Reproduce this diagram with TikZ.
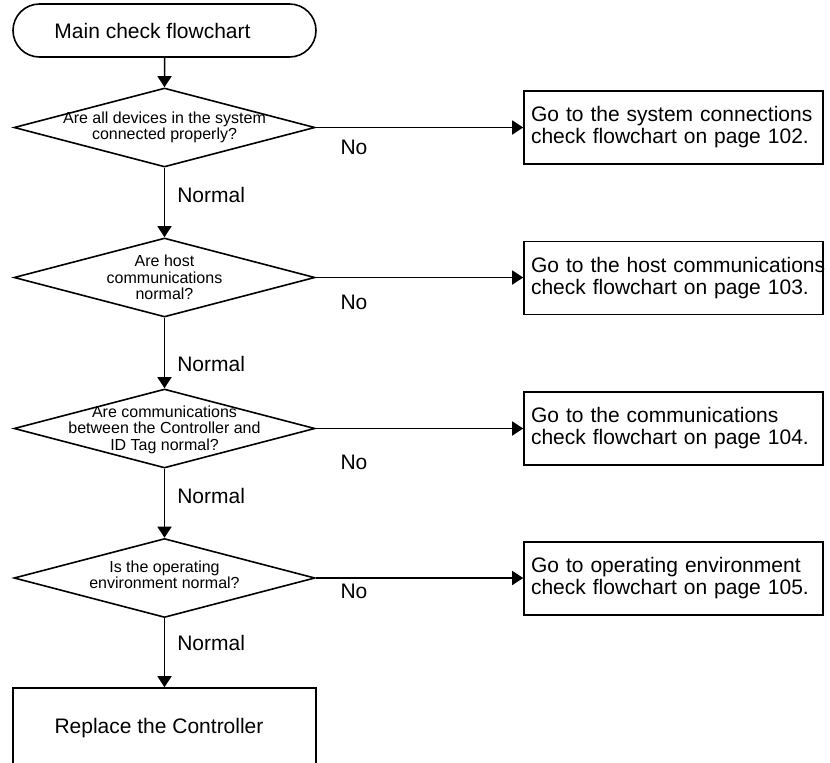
\documentclass[tikz,border=0pt]{standalone}
\usepackage{fontspec}
\setmainfont{Liberation Sans}
\usetikzlibrary{arrows.meta,shapes.geometric,shapes.misc}
\begin{document}
\begin{tikzpicture}[x=1pt,y=-1pt,
  every node/.style={font=\fontsize{21pt}{22pt}\selectfont},
  term/.style={rounded rectangle, draw, line width=1.6pt, minimum width=303pt, minimum height=53pt, inner sep=0pt},
  dia/.style={diamond, draw, line width=1.6pt, minimum width=301pt, minimum height=79pt, inner sep=0pt},
  dtext/.style={font=\fontsize{16pt}{16.5pt}\selectfont, align=center, inner sep=0pt},
  gobox/.style={rectangle, draw, line width=1.6pt, minimum width=299pt, minimum height=73pt, text width=285pt, inner xsep=7pt, inner ysep=0pt, align=left},
  endbox/.style={rectangle, draw, line width=1.6pt, minimum width=303pt, minimum height=80pt},
  arr/.style={line width=1.5pt, -{Triangle[length=11pt,width=14pt]}},
  lab/.style={inner sep=0pt}
]
\useasboundingbox (0,0) rectangle (830,763);
\clip (0,0) rectangle (830,763);

\node[term] (term) at (164.5,30.5) {Main check flowchart\hspace*{24pt}};

\node[dia, label={[dtext]center:{Are all devices in the system\\connected properly?}}] (d1) at (164.5,127.5) {};
\node[dia, label={[dtext]center:{Are host\\communications\\normal?}}] (d2) at (164.5,277.5) {};
\node[dia, label={[dtext,yshift=-1pt]center:{Are communications\\between the Controller and\\ID Tag normal?}}] (d3) at (164.5,428.5) {};
\node[dia, label={[dtext,yshift=3pt]center:{Is the operating\\environment normal?}}] (d4) at (164.5,578) {};

\node[endbox] (rep) at (164.5,728) {Replace the Controller\hspace*{11pt}};

\node[gobox] (g1) at (673.5,127.5) {\mbox{Go to the system connections}\\\mbox{check flowchart on page 102.}};
\node[gobox] (g2) at (673.5,278) {\mbox{Go to the host communications}\\\mbox{check flowchart on page 103.}};
\node[gobox] (g3) at (673.5,428.5) {\mbox{Go to the communications}\\\mbox{check flowchart on page 104.}};
\node[gobox] (g4) at (673.5,578.5) {\mbox{Go to operating environment}\\\mbox{check flowchart on page 105.}};

\draw[arr] (term) -- (d1);
\draw[arr] (d1) -- node[lab, pos=0.39, anchor=west, xshift=12pt] {Normal} (d2);
\draw[arr] (d2) -- node[lab, pos=0.66, anchor=west, xshift=12pt] {Normal} (d3);
\draw[arr] (d3) -- node[lab, pos=0.39, anchor=west, xshift=12pt] {Normal} (d4);
\draw[arr] (d4) -- node[lab, pos=0.36, anchor=west, xshift=12pt] {Normal} (rep);

\draw[arr] (d1) -- node[lab, pos=0.184, yshift=-20pt] {No} (g1.west |- d1);
\draw[arr] (d2) -- node[lab, pos=0.184, yshift=-25pt] {No} (g2.west |- d2);
\draw[arr] (d3) -- node[lab, pos=0.184, yshift=-34pt] {No} (g3.west |- d3);
\draw[arr] (d4) -- node[lab, pos=0.184, yshift=-13pt] {No} (g4.west |- d4);
\end{tikzpicture}
\end{document}
